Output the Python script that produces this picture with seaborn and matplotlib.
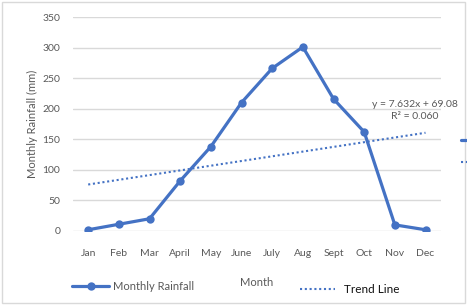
import matplotlib
matplotlib.use('Agg')
from matplotlib import pyplot as plt
from matplotlib.lines import Line2D
from matplotlib.patches import Rectangle
import numpy as np
import pandas as pd
import seaborn as sns

# data
months = ['Jan', 'Feb', 'Mar', 'April', 'May', 'June', 'July', 'Aug', 'Sept', 'Oct', 'Nov', 'Dec']
month_no = list(range(1, 13))
rainfall = [2, 11, 20, 82, 138, 210, 266, 301, 216, 162, 10, 2]
y_ticks = [0, 50, 100, 150, 200, 250, 300, 350]
trend_text = 'y = 7.632x + 69.08\nR² = 0.060'

df = pd.DataFrame({'month_no': month_no, 'rainfall': rainfall})

sns.set_style('white')
plt.rcParams['font.family'] = ['Lato', 'DejaVu Sans']

blue = '#4472C4'
gray_txt = '#595959'

fig = plt.figure(figsize=(4.67, 3.07), dpi=100)
ax = fig.add_axes([0.156, 0.2476, 0.788, 0.697])

sns.lineplot(data=df, x='month_no', y='rainfall', ax=ax, color=blue,
             linewidth=2.3, marker='o', markersize=6, markeredgewidth=0,
             label='Monthly Rainfall', legend=False)
sns.regplot(data=df, x='month_no', y='rainfall', ax=ax, scatter=False, ci=None,
            line_kws=dict(color=blue, linewidth=1.5, linestyle=(0, (1, 1.3))))

ax.set_xlim(0.5, 12.5)
ax.set_ylim(0, 350)
ax.set_yticks(y_ticks)
ax.set_xticks(month_no)
ax.set_xticklabels(months)
ax.tick_params(axis='both', labelsize=7.5, colors=gray_txt, length=0)
ax.tick_params(axis='x', pad=13)
ax.tick_params(axis='y', pad=9)
ax.grid(axis='y', color='#D9D9D9', linewidth=1)
ax.set_axisbelow(True)
for s in ax.spines.values():
    s.set_visible(False)

ax.set_xlabel('Month', fontsize=8, color=gray_txt, labelpad=14)
ax.set_ylabel('Monthly Rainfall (mm)', fontsize=8, color=gray_txt, labelpad=3)

ax.text(11.65, 197, trend_text, ha='center', va='center', fontsize=7.5,
        color=gray_txt, linespacing=1.35)

h_rain = Line2D([], [], color=blue, linewidth=2.3, marker='o', markersize=6, markeredgewidth=0)
h_trend = Line2D([], [], color=blue, linewidth=1.5, linestyle=(0, (1, 1.3)))

leg1 = fig.legend([h_rain], ['Monthly Rainfall'], loc='center left',
                  bbox_to_anchor=(0.155, 0.066), frameon=False, fontsize=8,
                  handlelength=3.3, handletextpad=0.4, borderpad=0, borderaxespad=0)
for t in leg1.get_texts():
    t.set_color(gray_txt)
leg2 = fig.legend([h_trend], ['Trend Line'], loc='center left',
                  bbox_to_anchor=(0.642, 0.056), frameon=False, fontsize=8.5,
                  handlelength=3.0, handletextpad=0.75, borderpad=0, borderaxespad=0)
for t in leg2.get_texts():
    t.set_color('#111111')
# right-hand legend, cut off by the chart edge: only the handles show
fig.legend([h_rain, h_trend], ['', ''], loc='upper left',
           bbox_to_anchor=(0.988, 0.56), frameon=False, fontsize=8,
           handlelength=3, labelspacing=1.0, borderpad=0, borderaxespad=0)

fig.patches.append(Rectangle((0.005, 0.012), 0.99, 0.98, transform=fig.transFigure,
                             fill=False, edgecolor='#D9D9D9', linewidth=1))

fig.savefig('out.png', dpi=100)
